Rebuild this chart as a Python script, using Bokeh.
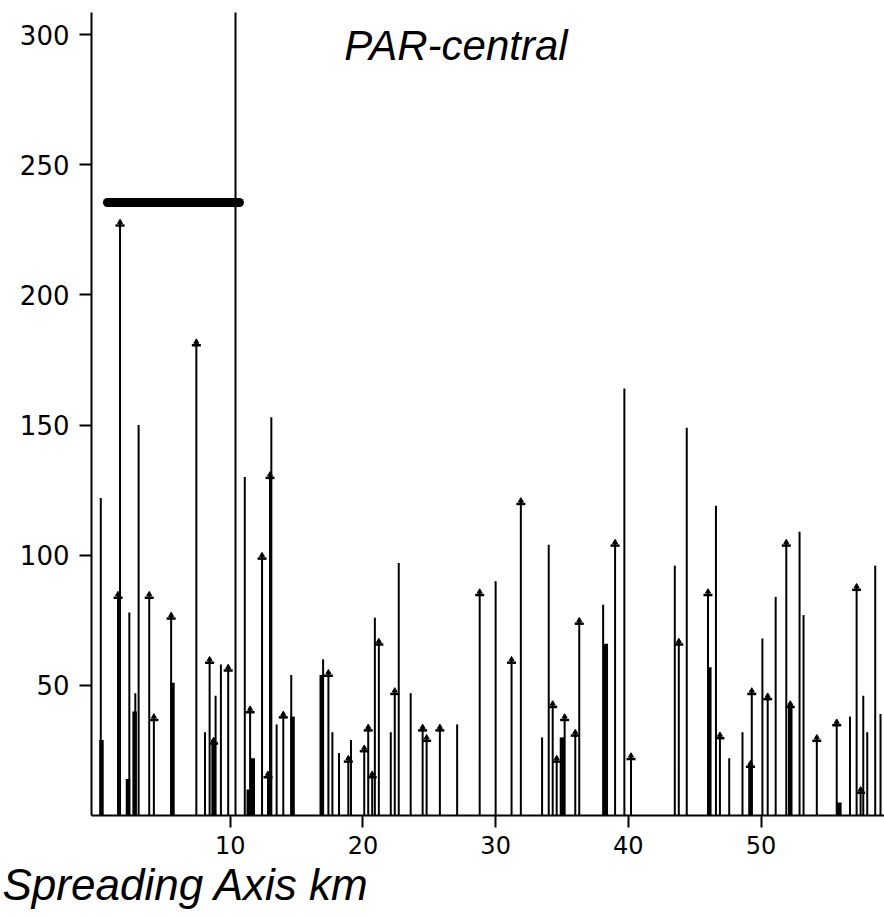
from bokeh.plotting import figure
from bokeh.models import FixedTicker, Label, ColumnDataSource, Range1d, Title
from bokeh.transform import dodge
from bokeh.embed import file_html
from bokeh.resources import INLINE

# ---- data (km along the spreading axis, value) ----
# thin sticks without a head
plain_km = [0.25, 2.4, 2.85, 3.1, 8.1, 8.9, 9.3, 10.4, 11.1, 13.1, 13.5, 14.6,
            17.0, 17.7, 18.2, 19.1, 20.9, 22.1, 22.7, 23.6, 27.1, 30.0, 33.5,
            34.0, 38.1, 39.7, 43.5, 44.4, 46.6, 47.6, 48.6, 50.1, 51.1, 52.9,
            53.2, 56.7, 57.7, 58.0, 58.6, 59.0]
plain_val = [122, 78, 47, 150, 32, 46, 58, 310, 130, 153, 35, 54,
             60, 32, 24, 29, 76, 32, 97, 47, 35, 90, 30,
             104, 81, 164, 96, 149, 119, 22, 32, 68, 84, 109,
             77, 38, 46, 32, 96, 39]

# heavy (overlapping) sticks
heavy_km = [0.3, 2.3, 2.8, 5.65, 8.75, 11.4, 11.7, 14.7, 16.9, 35.0, 38.3,
            46.1, 49.2, 52.2, 55.9]
heavy_val = [29, 14, 40, 51, 29, 10, 22, 38, 54, 30, 66,
             57, 20, 43, 5]

# sticks ending in a small head
marked_km = [1.55, 1.7, 3.9, 4.25, 5.55, 7.45, 8.45, 8.75, 9.85, 11.5, 12.4,
             12.85, 13.0, 14.0, 17.4, 18.9, 20.1, 20.4, 20.7, 21.2, 22.4, 24.5,
             24.8, 25.8, 28.8, 31.2, 31.9, 34.3, 34.6, 35.2, 36.0, 36.3, 39.0,
             40.2, 43.8, 46.0, 46.9, 49.2, 49.3, 50.5, 51.9, 52.2, 54.2, 55.7,
             57.2, 57.5]
marked_val = [85, 228, 85, 38, 77, 182, 60, 29, 57, 41, 100,
              16, 131, 39, 55, 22, 26, 34, 16, 67, 48, 34,
              30, 34, 86, 60, 121, 43, 22, 38, 32, 75, 105,
              23, 67, 86, 31, 20, 48, 46, 105, 43, 30, 36,
              88, 10]

# thick horizontal bar
bar_km = [0.75, 10.7]
bar_level = [235.5, 235.5]

x_ticks = [10, 20, 30, 40, 50]
y_ticks = [50, 100, 150, 200, 250, 300]
title_text = "PAR-central"
x_title = "Spreading Axis km"

# ---- figure ----
p = figure(width=884, height=916,
           x_range=Range1d(-0.45, 59.3), y_range=Range1d(0, 308.5),
           output_backend="svg", toolbar_location=None,
           min_border_left=91, min_border_right=0,
           min_border_top=12, min_border_bottom=101)
p.outline_line_color = None
p.xgrid.visible = False
p.ygrid.visible = False
p.background_fill_color = "white"
p.border_fill_color = "white"

plain = ColumnDataSource(dict(x=plain_km, y=plain_val, z=[0] * len(plain_km)))
heavy = ColumnDataSource(dict(x=heavy_km, y=heavy_val, z=[0] * len(heavy_km)))
marked = ColumnDataSource(dict(x=marked_km, y=marked_val, z=[0] * len(marked_km)))

p.segment(x0="x", y0="z", x1="x", y1="y", source=plain,
          line_color="black", line_width=2)
p.segment(x0="x", y0="z", x1="x", y1="y", source=heavy,
          line_color="black", line_width=4.5)
p.segment(x0="x", y0="z", x1="x", y1="y", source=marked,
          line_color="black", line_width=2)
p.scatter(x="x", y=dodge("y", -1.3, range=p.y_range), source=marked,
          marker="dash", size=9, line_color="black", line_width=2.5)
p.scatter(x="x", y="y", source=marked, marker="triangle", size=5,
          fill_color="black", line_color="black")

p.line(bar_km, bar_level, line_color="black", line_width=9, line_cap="round")

for ax in (p.xaxis, p.yaxis):
    ax.axis_line_color = "black"
    ax.axis_line_width = 2
    ax.major_tick_line_color = "black"
    ax.major_tick_line_width = 2
    ax.major_tick_out = 12
    ax.major_tick_in = 0
    ax.minor_tick_line_color = None
    ax.major_label_text_font = "DejaVu Sans"
    ax.major_label_text_font_size = "26px"
    ax.major_label_text_color = "black"

p.xaxis.ticker = FixedTicker(ticks=x_ticks)
p.yaxis.ticker = FixedTicker(ticks=y_ticks)
p.xaxis.major_label_text_font_size = "24px"
p.xaxis.major_label_standoff = 8
p.yaxis.major_label_standoff = 10

p.add_layout(Label(x=18.6, y=296.0, text=title_text,
                   text_font="Liberation Sans", text_font_style="italic",
                   text_font_size="42px", text_color="black",
                   text_baseline="alphabetic"))
p.add_layout(Title(text=x_title, align="left", offset=-89, standoff=2,
                   text_font="Liberation Sans", text_font_style="italic",
                   text_font_size="44px", text_color="black"), "below")

open("out.html", "w").write(file_html(p, INLINE))
